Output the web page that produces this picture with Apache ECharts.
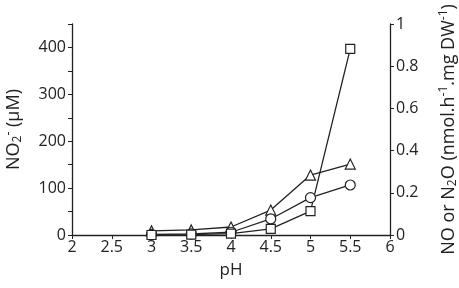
<!DOCTYPE html>
<html>
<head>
<meta charset="utf-8">
<script src="https://cdn.jsdelivr.net/npm/echarts@6/dist/echarts.min.js"></script>
<style>
  html, body { margin: 0; padding: 0; background: #fff; }
  #chart { width: 459px; height: 288px; }
</style>
</head>
<body>
<div id="chart"></div>
<script>
// pH values on x
const phValues = [3, 3.5, 4, 4.5, 5, 5.5];
// NO2- (µM), left axis, squares
const nitrite = [0, 1, 3, 13, 51, 397];
// right axis series (nmol.h-1.mg DW-1)
const triangleSeries = [0.02, 0.024, 0.038, 0.118, 0.284, 0.336];
const circleSeries = [0.003, 0.005, 0.013, 0.076, 0.177, 0.237];

const ink = '#222';
const font = 'Open Sans';

function pairs(ys) {
  return phValues.map((x, i) => [x, ys[i]]);
}

const chart = echarts.init(document.getElementById('chart'));

const lineSeries = (data, symbol, yIdx, size) => ({
  type: 'line',
  data: pairs(data),
  yAxisIndex: yIdx,
  symbol: symbol,
  symbolSize: size,
  showAllSymbol: true,
  lineStyle: { color: ink, width: 1.3 },
  itemStyle: { color: '#fff', borderColor: ink, borderWidth: 1.2 },
  animation: false
});

const nameRich = {
  n: { fontSize: 18, fontFamily: font, color: ink },
  sub: { fontSize: 12, fontFamily: font, color: ink, padding: [9, 0, 0, 0] },
  sup: { fontSize: 12, fontFamily: font, color: ink, padding: [0, 0, 9, 0] }
};

chart.setOption({
  animation: false,
  grid: { left: 72, right: 69, top: 24, bottom: 53, outerBoundsMode: 'none', containLabel: false },
  xAxis: {
    type: 'value',
    min: 2,
    max: 6,
    interval: 0.5,
    name: 'pH',
    nameLocation: 'middle',
    nameGap: 27,
    nameTextStyle: { fontSize: 17, fontFamily: font, color: ink },
    axisLine: { lineStyle: { color: ink, width: 1.3 } },
    axisTick: { show: true, length: 4, lineStyle: { color: ink } },
    axisLabel: { fontSize: 16, fontFamily: font, color: ink, margin: 4 },
    splitLine: { show: false }
  },
  yAxis: [
    {
      type: 'value',
      min: 0,
      max: 450,
      interval: 50,
      position: 'left',
      name: '{n|NO}{sub|2}{sup|-}{n| (μM)}',
      nameLocation: 'middle',
      nameRotate: 90,
      nameGap: 48,
      nameTextStyle: { rich: nameRich },
      axisLine: { show: true, lineStyle: { color: ink, width: 1.3 } },
      axisTick: { show: true, length: 4, lineStyle: { color: ink } },
      axisLabel: {
        fontSize: 16, fontFamily: font, color: ink, margin: 6,
        formatter: v => (v % 100 === 0 ? String(v) : '')
      },
      splitLine: { show: false }
    },
    {
      type: 'value',
      min: 0,
      max: 1,
      interval: 0.2,
      position: 'right',
      name: '{n|NO or N}{sub|2}{n|O (nmol.h}{sup|-1}{n|.mg DW}{sup|-1}{n|)}',
      nameLocation: 'middle',
      nameRotate: 90,
      nameGap: 48,
      nameTextStyle: { rich: nameRich },
      axisLine: { show: true, lineStyle: { color: ink, width: 1.3 } },
      axisTick: { show: true, length: 4, lineStyle: { color: ink } },
      axisLabel: { fontSize: 16, fontFamily: font, color: ink, margin: 6 },
      splitLine: { show: false }
    }
  ],
  series: [
    lineSeries(triangleSeries, 'triangle', 1, 10),
    lineSeries(circleSeries, 'circle', 1, 10),
    lineSeries(nitrite, 'rect', 0, 9)
  ]
});
</script>
</body>
</html>
